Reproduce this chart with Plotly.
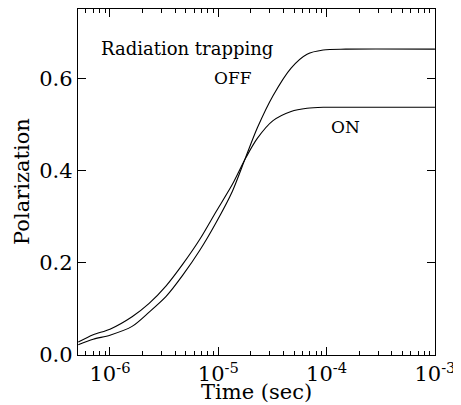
import plotly.graph_objects as go

time_sec = [5.1e-7, 7.0e-7, 1.0e-6, 1.6e-6, 2.3e-6, 3.3e-6, 4.7e-6, 6.8e-6, 9.5e-6,
            1.35e-5, 1.8e-5, 2.3e-5, 3.2e-5, 4.7e-5, 6.6e-5, 9.3e-5, 1.5e-4, 1.0e-3]
pol_on = [0.028, 0.044, 0.056, 0.083, 0.112, 0.150, 0.197, 0.252, 0.310,
          0.370, 0.428, 0.470, 0.508, 0.528, 0.535, 0.537, 0.537, 0.537]
pol_off = [0.022, 0.034, 0.043, 0.062, 0.093, 0.127, 0.173, 0.228, 0.286,
           0.355, 0.430, 0.493, 0.562, 0.622, 0.652, 0.661, 0.663, 0.663]

x_ticks = [1e-6, 1e-5, 1e-4, 1e-3]
x_ticklabels = ["10<sup>-6</sup>", "10<sup>-5</sup>", "10<sup>-4</sup>", "10<sup>-3</sup>"]
y_ticks = [0.0, 0.2, 0.4, 0.6]
y_ticklabels = ["0.0", "0.2", "0.4", "0.6"]

FONT = "DejaVu Serif"

minor_x = [k * 10.0 ** e for e in range(-7, -3) for k in range(2, 10)]
minor_x = [v for v in minor_x if 5.07e-7 < v < 1e-3]

fig = go.Figure()
for name, vals in [("ON", pol_on), ("OFF", pol_off)]:
    fig.add_trace(go.Scatter(x=time_sec, y=vals, mode="lines", name=name,
                             line=dict(color="black", width=1.1, shape="spline", smoothing=0.8),
                             showlegend=False))

fig.add_annotation(x=-5.29, y=0.665, text="Radiation trapping", showarrow=False,
                   font=dict(family=FONT, size=18, color="black"))
fig.add_annotation(x=-4.866, y=0.600, text="OFF", showarrow=False,
                   font=dict(family=FONT, size=17, color="black"))
fig.add_annotation(x=-3.825, y=0.494, text="ON", showarrow=False,
                   font=dict(family=FONT, size=17, color="black"))

# axis titles
fig.add_annotation(xref="paper", yref="paper", x=0.5, y=0, yshift=-37, yanchor="middle",
                   text="Time (sec)", showarrow=False,
                   font=dict(family=FONT, size=21, color="black"))
fig.add_annotation(xref="paper", yref="paper", x=0, y=0.5, xshift=-56, xanchor="center",
                   text="Polarization", textangle=-90, showarrow=False,
                   font=dict(family=FONT, size=21, color="black"))

axis_common = dict(showline=True, linecolor="black", linewidth=1.3, mirror="ticks",
                   ticks="inside", tickcolor="black", showgrid=False, zeroline=False,
                   automargin=False,
                   tickfont=dict(family=FONT, size=21, color="black"))

fig.update_xaxes(type="log", range=[-6.295, -2.9995], tickvals=x_ticks, ticktext=x_ticklabels,
                 ticklen=8, tickwidth=1,
                 minor=dict(ticks="inside", ticklen=4, tickcolor="black", tickvals=minor_x, showgrid=False),
                 **axis_common)
fig.update_yaxes(range=[0, 0.75], tickvals=y_ticks, ticktext=y_ticklabels,
                 ticklen=8, tickwidth=1,
                 **axis_common)

# page body has an 8px default margin; size the figure so the plot lands where it should
fig.update_layout(width=453, height=397, margin=dict(l=70, r=26, t=1, b=50),
                  plot_bgcolor="white", paper_bgcolor="white")

fig.write_html("out.html")
